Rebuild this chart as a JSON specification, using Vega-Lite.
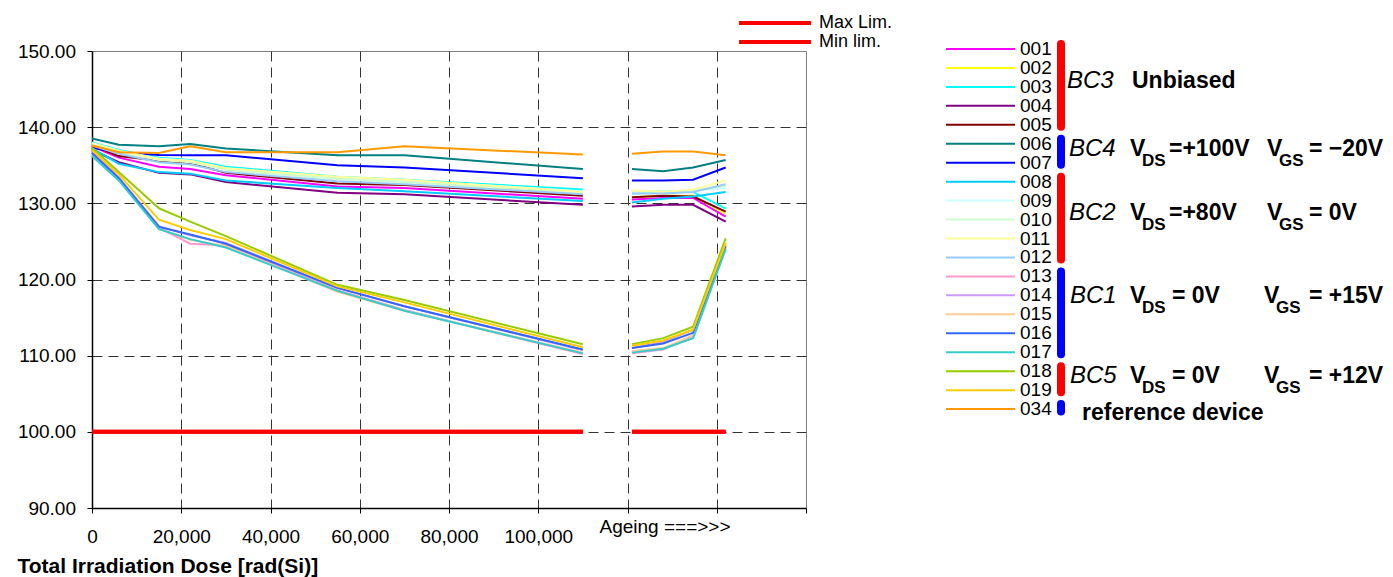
{
  "$schema": "https://vega.github.io/schema/vega-lite/v6.json",
  "background": "white",
  "padding": {"left": 16, "top": 12, "right": 0, "bottom": 0},
  "config": {"font": "Liberation Sans", "view": {"stroke": null}, "concat": {"spacing": 51}},
  "datasets": {
    "series": [
      {"d":"001","x":0,"y":137.5,"p":"irr"},{"d":"001","x":6000,"y":136.0,"p":"irr"},{"d":"001","x":15000,"y":134.8,"p":"irr"},{"d":"001","x":22000,"y":134.5,"p":"irr"},{"d":"001","x":30000,"y":133.7,"p":"irr"},{"d":"001","x":55000,"y":132.2,"p":"irr"},{"d":"001","x":70000,"y":132.0,"p":"irr"},{"d":"001","x":110000,"y":130.6,"p":"irr"},
      {"d":"001","x":121000,"y":130.5,"p":"age"},{"d":"001","x":128000,"y":130.7,"p":"age"},{"d":"001","x":134700,"y":130.7,"p":"age"},{"d":"001","x":142000,"y":128.25,"p":"age"},
      {"d":"002","x":0,"y":137.8,"p":"irr"},{"d":"002","x":6000,"y":136.8,"p":"irr"},{"d":"002","x":15000,"y":135.8,"p":"irr"},{"d":"002","x":22000,"y":135.5,"p":"irr"},{"d":"002","x":30000,"y":134.5,"p":"irr"},{"d":"002","x":55000,"y":133.3,"p":"irr"},{"d":"002","x":70000,"y":132.9,"p":"irr"},{"d":"002","x":110000,"y":131.3,"p":"irr"},
      {"d":"002","x":121000,"y":130.8,"p":"age"},{"d":"002","x":128000,"y":131.0,"p":"age"},{"d":"002","x":134700,"y":131.0,"p":"age"},{"d":"002","x":142000,"y":128.6,"p":"age"},
      {"d":"003","x":0,"y":138.0,"p":"irr"},{"d":"003","x":6000,"y":137.0,"p":"irr"},{"d":"003","x":15000,"y":136.0,"p":"irr"},{"d":"003","x":22000,"y":135.7,"p":"irr"},{"d":"003","x":30000,"y":134.8,"p":"irr"},{"d":"003","x":55000,"y":133.5,"p":"irr"},{"d":"003","x":70000,"y":133.1,"p":"irr"},{"d":"003","x":110000,"y":131.8,"p":"irr"},
      {"d":"003","x":121000,"y":131.3,"p":"age"},{"d":"003","x":128000,"y":131.5,"p":"age"},{"d":"003","x":134700,"y":131.5,"p":"age"},{"d":"003","x":142000,"y":129.3,"p":"age"},
      {"d":"004","x":0,"y":137.0,"p":"irr"},{"d":"004","x":6000,"y":135.4,"p":"irr"},{"d":"004","x":15000,"y":134.0,"p":"irr"},{"d":"004","x":22000,"y":133.8,"p":"irr"},{"d":"004","x":30000,"y":132.8,"p":"irr"},{"d":"004","x":55000,"y":131.4,"p":"irr"},{"d":"004","x":70000,"y":131.2,"p":"irr"},{"d":"004","x":110000,"y":129.8,"p":"irr"},
      {"d":"004","x":121000,"y":129.6,"p":"age"},{"d":"004","x":128000,"y":129.8,"p":"age"},{"d":"004","x":134700,"y":129.8,"p":"age"},{"d":"004","x":142000,"y":127.6,"p":"age"},
      {"d":"005","x":0,"y":137.6,"p":"irr"},{"d":"005","x":6000,"y":136.2,"p":"irr"},{"d":"005","x":15000,"y":135.6,"p":"irr"},{"d":"005","x":22000,"y":135.3,"p":"irr"},{"d":"005","x":30000,"y":134.0,"p":"irr"},{"d":"005","x":55000,"y":132.6,"p":"irr"},{"d":"005","x":70000,"y":132.4,"p":"irr"},{"d":"005","x":110000,"y":131.0,"p":"irr"},
      {"d":"005","x":121000,"y":130.8,"p":"age"},{"d":"005","x":128000,"y":131.0,"p":"age"},{"d":"005","x":134700,"y":130.9,"p":"age"},{"d":"005","x":142000,"y":128.9,"p":"age"},
      {"d":"006","x":0,"y":138.5,"p":"irr"},{"d":"006","x":6000,"y":137.7,"p":"irr"},{"d":"006","x":15000,"y":137.5,"p":"irr"},{"d":"006","x":22000,"y":137.8,"p":"irr"},{"d":"006","x":30000,"y":137.2,"p":"irr"},{"d":"006","x":55000,"y":136.3,"p":"irr"},{"d":"006","x":70000,"y":136.3,"p":"irr"},{"d":"006","x":110000,"y":134.5,"p":"irr"},
      {"d":"006","x":121000,"y":134.5,"p":"age"},{"d":"006","x":128000,"y":134.2,"p":"age"},{"d":"006","x":134700,"y":134.7,"p":"age"},{"d":"006","x":142000,"y":135.7,"p":"age"},
      {"d":"007","x":0,"y":137.3,"p":"irr"},{"d":"007","x":6000,"y":136.7,"p":"irr"},{"d":"007","x":15000,"y":136.35,"p":"irr"},{"d":"007","x":22000,"y":136.3,"p":"irr"},{"d":"007","x":30000,"y":136.3,"p":"irr"},{"d":"007","x":55000,"y":135.0,"p":"irr"},{"d":"007","x":70000,"y":134.7,"p":"irr"},{"d":"007","x":110000,"y":133.3,"p":"irr"},
      {"d":"007","x":121000,"y":133.0,"p":"age"},{"d":"007","x":128000,"y":133.0,"p":"age"},{"d":"007","x":134700,"y":133.1,"p":"age"},{"d":"007","x":142000,"y":134.7,"p":"age"},
      {"d":"008","x":0,"y":137.2,"p":"irr"},{"d":"008","x":6000,"y":135.2,"p":"irr"},{"d":"008","x":15000,"y":134.1,"p":"irr"},{"d":"008","x":22000,"y":133.9,"p":"irr"},{"d":"008","x":30000,"y":133.0,"p":"irr"},{"d":"008","x":55000,"y":132.0,"p":"irr"},{"d":"008","x":70000,"y":131.6,"p":"irr"},{"d":"008","x":110000,"y":130.3,"p":"irr"},
      {"d":"008","x":121000,"y":130.1,"p":"age"},{"d":"008","x":128000,"y":130.6,"p":"age"},{"d":"008","x":134700,"y":130.9,"p":"age"},{"d":"008","x":142000,"y":131.5,"p":"age"},
      {"d":"009","x":0,"y":137.9,"p":"irr"},{"d":"009","x":6000,"y":136.9,"p":"irr"},{"d":"009","x":15000,"y":135.9,"p":"irr"},{"d":"009","x":22000,"y":135.6,"p":"irr"},{"d":"009","x":30000,"y":134.6,"p":"irr"},{"d":"009","x":55000,"y":133.4,"p":"irr"},{"d":"009","x":70000,"y":133.0,"p":"irr"},{"d":"009","x":110000,"y":131.6,"p":"irr"},
      {"d":"009","x":121000,"y":131.5,"p":"age"},{"d":"009","x":128000,"y":131.6,"p":"age"},{"d":"009","x":134700,"y":131.7,"p":"age"},{"d":"009","x":142000,"y":132.0,"p":"age"},
      {"d":"010","x":0,"y":137.7,"p":"irr"},{"d":"010","x":6000,"y":136.7,"p":"irr"},{"d":"010","x":15000,"y":135.7,"p":"irr"},{"d":"010","x":22000,"y":135.4,"p":"irr"},{"d":"010","x":30000,"y":134.4,"p":"irr"},{"d":"010","x":55000,"y":133.2,"p":"irr"},{"d":"010","x":70000,"y":132.8,"p":"irr"},{"d":"010","x":110000,"y":131.4,"p":"irr"},
      {"d":"010","x":121000,"y":131.6,"p":"age"},{"d":"010","x":128000,"y":131.6,"p":"age"},{"d":"010","x":134700,"y":131.6,"p":"age"},{"d":"010","x":142000,"y":132.3,"p":"age"},
      {"d":"011","x":0,"y":137.9,"p":"irr"},{"d":"011","x":6000,"y":136.9,"p":"irr"},{"d":"011","x":15000,"y":135.8,"p":"irr"},{"d":"011","x":22000,"y":135.6,"p":"irr"},{"d":"011","x":30000,"y":134.6,"p":"irr"},{"d":"011","x":55000,"y":133.5,"p":"irr"},{"d":"011","x":70000,"y":133.1,"p":"irr"},{"d":"011","x":110000,"y":131.5,"p":"irr"},
      {"d":"011","x":121000,"y":131.7,"p":"age"},{"d":"011","x":128000,"y":131.5,"p":"age"},{"d":"011","x":134700,"y":131.8,"p":"age"},{"d":"011","x":142000,"y":133.0,"p":"age"},
      {"d":"012","x":0,"y":137.6,"p":"irr"},{"d":"012","x":6000,"y":136.5,"p":"irr"},{"d":"012","x":15000,"y":135.4,"p":"irr"},{"d":"012","x":22000,"y":135.1,"p":"irr"},{"d":"012","x":30000,"y":134.1,"p":"irr"},{"d":"012","x":55000,"y":132.9,"p":"irr"},{"d":"012","x":70000,"y":132.5,"p":"irr"},{"d":"012","x":110000,"y":131.2,"p":"irr"},
      {"d":"012","x":121000,"y":131.3,"p":"age"},{"d":"012","x":128000,"y":131.3,"p":"age"},{"d":"012","x":134700,"y":131.5,"p":"age"},{"d":"012","x":142000,"y":132.5,"p":"age"},
      {"d":"013","x":0,"y":136.5,"p":"irr"},{"d":"013","x":6000,"y":133.2,"p":"irr"},{"d":"013","x":15000,"y":126.8,"p":"irr"},{"d":"013","x":22000,"y":124.7,"p":"irr"},{"d":"013","x":30000,"y":124.5,"p":"irr"},{"d":"013","x":55000,"y":118.6,"p":"irr"},{"d":"013","x":70000,"y":116.0,"p":"irr"},{"d":"013","x":110000,"y":110.2,"p":"irr"},
      {"d":"013","x":121000,"y":110.3,"p":"age"},{"d":"013","x":128000,"y":110.8,"p":"age"},{"d":"013","x":134700,"y":112.6,"p":"age"},{"d":"013","x":142000,"y":124.2,"p":"age"},
      {"d":"014","x":0,"y":136.8,"p":"irr"},{"d":"014","x":6000,"y":133.4,"p":"irr"},{"d":"014","x":15000,"y":127.0,"p":"irr"},{"d":"014","x":22000,"y":125.8,"p":"irr"},{"d":"014","x":30000,"y":124.8,"p":"irr"},{"d":"014","x":55000,"y":118.9,"p":"irr"},{"d":"014","x":70000,"y":116.5,"p":"irr"},{"d":"014","x":110000,"y":110.7,"p":"irr"},
      {"d":"014","x":121000,"y":111.0,"p":"age"},{"d":"014","x":128000,"y":111.8,"p":"age"},{"d":"014","x":134700,"y":113.4,"p":"age"},{"d":"014","x":142000,"y":124.6,"p":"age"},
      {"d":"015","x":0,"y":136.3,"p":"irr"},{"d":"015","x":6000,"y":133.1,"p":"irr"},{"d":"015","x":15000,"y":126.7,"p":"irr"},{"d":"015","x":22000,"y":125.2,"p":"irr"},{"d":"015","x":30000,"y":124.4,"p":"irr"},{"d":"015","x":55000,"y":118.4,"p":"irr"},{"d":"015","x":70000,"y":115.9,"p":"irr"},{"d":"015","x":110000,"y":110.4,"p":"irr"},
      {"d":"015","x":121000,"y":110.6,"p":"age"},{"d":"015","x":128000,"y":111.0,"p":"age"},{"d":"015","x":134700,"y":112.7,"p":"age"},{"d":"015","x":142000,"y":124.2,"p":"age"},
      {"d":"016","x":0,"y":136.6,"p":"irr"},{"d":"016","x":6000,"y":133.3,"p":"irr"},{"d":"016","x":15000,"y":126.9,"p":"irr"},{"d":"016","x":22000,"y":125.9,"p":"irr"},{"d":"016","x":30000,"y":124.7,"p":"irr"},{"d":"016","x":55000,"y":118.9,"p":"irr"},{"d":"016","x":70000,"y":116.5,"p":"irr"},{"d":"016","x":110000,"y":110.8,"p":"irr"},
      {"d":"016","x":121000,"y":111.0,"p":"age"},{"d":"016","x":128000,"y":111.6,"p":"age"},{"d":"016","x":134700,"y":113.0,"p":"age"},{"d":"016","x":142000,"y":124.4,"p":"age"},
      {"d":"017","x":0,"y":136.2,"p":"irr"},{"d":"017","x":6000,"y":133.0,"p":"irr"},{"d":"017","x":15000,"y":126.6,"p":"irr"},{"d":"017","x":22000,"y":125.3,"p":"irr"},{"d":"017","x":30000,"y":124.2,"p":"irr"},{"d":"017","x":55000,"y":118.5,"p":"irr"},{"d":"017","x":70000,"y":115.9,"p":"irr"},{"d":"017","x":110000,"y":110.3,"p":"irr"},
      {"d":"017","x":121000,"y":110.4,"p":"age"},{"d":"017","x":128000,"y":110.9,"p":"age"},{"d":"017","x":134700,"y":112.3,"p":"age"},{"d":"017","x":142000,"y":124.0,"p":"age"},
      {"d":"018","x":0,"y":137.3,"p":"irr"},{"d":"018","x":6000,"y":134.1,"p":"irr"},{"d":"018","x":15000,"y":129.35,"p":"irr"},{"d":"018","x":22000,"y":127.6,"p":"irr"},{"d":"018","x":30000,"y":125.7,"p":"irr"},{"d":"018","x":55000,"y":119.3,"p":"irr"},{"d":"018","x":70000,"y":117.3,"p":"irr"},{"d":"018","x":110000,"y":111.5,"p":"irr"},
      {"d":"018","x":121000,"y":111.5,"p":"age"},{"d":"018","x":128000,"y":112.3,"p":"age"},{"d":"018","x":134700,"y":113.8,"p":"age"},{"d":"018","x":142000,"y":125.4,"p":"age"},
      {"d":"019","x":0,"y":137.0,"p":"irr"},{"d":"019","x":6000,"y":133.8,"p":"irr"},{"d":"019","x":15000,"y":127.85,"p":"irr"},{"d":"019","x":22000,"y":126.5,"p":"irr"},{"d":"019","x":30000,"y":125.3,"p":"irr"},{"d":"019","x":55000,"y":119.1,"p":"irr"},{"d":"019","x":70000,"y":117.0,"p":"irr"},{"d":"019","x":110000,"y":111.1,"p":"irr"},
      {"d":"019","x":121000,"y":111.3,"p":"age"},{"d":"019","x":128000,"y":112.0,"p":"age"},{"d":"019","x":134700,"y":113.4,"p":"age"},{"d":"019","x":142000,"y":124.8,"p":"age"},
      {"d":"034","x":0,"y":137.6,"p":"irr"},{"d":"034","x":6000,"y":136.7,"p":"irr"},{"d":"034","x":15000,"y":136.6,"p":"irr"},{"d":"034","x":22000,"y":137.5,"p":"irr"},{"d":"034","x":30000,"y":136.7,"p":"irr"},{"d":"034","x":55000,"y":136.7,"p":"irr"},{"d":"034","x":70000,"y":137.5,"p":"irr"},{"d":"034","x":110000,"y":136.4,"p":"irr"},
      {"d":"034","x":121000,"y":136.5,"p":"age"},{"d":"034","x":128000,"y":136.8,"p":"age"},{"d":"034","x":134700,"y":136.8,"p":"age"},{"d":"034","x":142000,"y":136.3,"p":"age"}
    ],
    "limits": [
      {"lim":"Max Lim.","x":0,"y":100,"p":"irr"},{"lim":"Max Lim.","x":110000,"y":100,"p":"irr"},
      {"lim":"Max Lim.","x":121000,"y":100,"p":"age"},{"lim":"Max Lim.","x":142000,"y":100,"p":"age"},
      {"lim":"Min lim.","x":0,"y":100,"p":"irr"},{"lim":"Min lim.","x":110000,"y":100,"p":"irr"},
      {"lim":"Min lim.","x":121000,"y":100,"p":"age"},{"lim":"Min lim.","x":142000,"y":100,"p":"age"}
    ],
    "entries": [
      {"d":"001","i":0},{"d":"002","i":1},{"d":"003","i":2},{"d":"004","i":3},{"d":"005","i":4},
      {"d":"006","i":5},{"d":"007","i":6},{"d":"008","i":7},{"d":"009","i":8},{"d":"010","i":9},
      {"d":"011","i":10},{"d":"012","i":11},{"d":"013","i":12},{"d":"014","i":13},{"d":"015","i":14},
      {"d":"016","i":15},{"d":"017","i":16},{"d":"018","i":17},{"d":"019","i":18},{"d":"034","i":19}
    ],
    "groups": [
      {"g":"BC3","first":0,"last":4},{"g":"BC4","first":5,"last":6},{"g":"BC2","first":7,"last":11},
      {"g":"BC1","first":12,"last":16},{"g":"BC5","first":17,"last":18},{"g":"ref","first":19,"last":19.02}
    ],
    "groupNames": [
      {"t":"BC3","col":122,"row":1.68},{"t":"BC4","col":124,"row":5.3},{"t":"BC2","col":124,"row":8.65},
      {"t":"BC1","col":125,"row":13.05},{"t":"BC5","col":125,"row":17.27}
    ],
    "mainText": [
      {"t":"Unbiased","col":187,"row":1.68},
      {"t":"V","col":185,"row":5.3},{"t":"=+100V","col":224,"row":5.3},{"t":"V","col":322,"row":5.3},{"t":"= −20V","col":364,"row":5.3},
      {"t":"V","col":185,"row":8.65},{"t":"=+80V","col":224,"row":8.65},{"t":"V","col":322,"row":8.65},{"t":"=  0V","col":364,"row":8.65},
      {"t":"V","col":185,"row":13.05},{"t":"= 0V","col":227,"row":13.05},{"t":"V","col":319,"row":13.05},{"t":"= +15V","col":364,"row":13.05},
      {"t":"V","col":185,"row":17.27},{"t":"= 0V","col":227,"row":17.27},{"t":"V","col":319,"row":17.27},{"t":"= +12V","col":364,"row":17.27},
      {"t":"reference device","col":137,"row":19.22}
    ],
    "subText": [
      {"t":"DS","col":197,"row":5.3},{"t":"GS","col":334,"row":5.3},
      {"t":"DS","col":197,"row":8.65},{"t":"GS","col":334,"row":8.65},
      {"t":"DS","col":197,"row":13.05},{"t":"GS","col":331,"row":13.05},
      {"t":"DS","col":197,"row":17.27},{"t":"GS","col":331,"row":17.27}
    ]
  },
  "resolve": {"scale": {"color": "independent", "x": "independent", "y": "independent"}},
  "hconcat": [
    {
      "width": 714,
      "height": 457,
      "view": {"stroke": "#808080", "strokeWidth": 1},
      "resolve": {"scale": {"color": "independent"}},
      "encoding": {
        "x": {
          "field": "x", "type": "quantitative",
          "scale": {"domain": [0, 160000], "nice": false, "zero": false},
          "axis": {
            "values": [0, 20000, 40000, 60000, 80000, 100000, 120000, 140000, 160000],
            "labelExpr": "datum.value == 120000 ? 'Ageing ===>>>' : (datum.value <= 100000 ? format(datum.value, ',') : '')",
            "labelFontSize": 19, "labelColor": "#000000", "labelOverlap": false, "labelFlush": false,
            "labelBaseline": "top",
            "labelPadding": {"condition": {"test": "datum.value == 120000", "value": 4.5}, "value": 14.5},
            "labelOffset": {"condition": {"test": "datum.value == 120000", "value": 37}, "value": 0},
            "tickSize": 5, "tickColor": "#000000", "domainColor": "#000000", "domainWidth": 1.5,
            "grid": true, "gridColor": "#333333", "gridDash": [10, 6],
            "gridOpacity": {"condition": {"test": "datum.value == 0 || datum.value == 160000", "value": 0}, "value": 1},
            "title": "Total Irradiation Dose [rad(Si)]",
            "titleFontSize": 21, "titleFontWeight": "bold", "titleColor": "#000000",
            "titleAnchor": "start", "titleAlign": "left", "titleBaseline": "alphabetic",
            "titleX": -75, "titleY": 64
          }
        },
        "y": {
          "field": "y", "type": "quantitative",
          "scale": {"domain": [90, 150], "nice": false, "zero": false},
          "axis": {
            "values": [90, 100, 110, 120, 130, 140, 150],
            "format": ".2f", "labelFontSize": 19, "labelColor": "#000000", "labelPadding": 11.5,
            "tickSize": 5, "tickColor": "#000000", "domainColor": "#000000", "domainWidth": 1.5,
            "grid": true, "gridColor": "#333333", "gridDash": [10, 6],
            "gridOpacity": {"condition": {"test": "datum.value == 90 || datum.value == 150", "value": 0}, "value": 1},
            "title": null
          }
        }
      },
      "layer": [
        {
          "data": {"name": "series"},
          "mark": {"type": "line", "strokeWidth": 2},
          "encoding": {
            "color": {
              "field": "d", "type": "nominal",
              "scale": {
                "domain": ["001","002","003","004","005","006","007","008","009","010","011","012","013","014","015","016","017","018","019","034"],
                "range": ["#FF00FF","#FFFF00","#00FFFF","#800080","#800000","#008080","#0000FF","#00CCFF","#CCFFFF","#CCFFCC","#FFFF99","#99CCFF","#FF99CC","#CC99FF","#FFCC99","#3366FF","#33CCCC","#99CC00","#FFCC00","#FF9900"]
              },
              "legend": null
            },
            "detail": {"field": "p", "type": "nominal"}
          }
        },
        {
          "data": {"name": "limits"},
          "mark": {"type": "line", "strokeWidth": 4},
          "encoding": {
            "color": {
              "field": "lim", "type": "nominal",
              "scale": {"domain": ["Max Lim.", "Min lim."], "range": ["#FF0000", "#FF0000"]},
              "legend": {
                "orient": "none", "legendX": 673, "legendY": -38, "title": null,
                "symbolType": "M-4.5,0H4.5", "symbolSize": 256, "symbolStrokeWidth": 4,
                "labelFontSize": 18, "labelColor": "#000000", "labelOffset": 34,
                "padding": 0, "rowPadding": 0
              }
            },
            "detail": {"field": "p", "type": "nominal"}
          }
        }
      ]
    },
    {
      "width": 447,
      "height": 398,
      "layer": [
        {
          "data": {"name": "entries"},
          "mark": {"type": "rule", "strokeWidth": 2},
          "encoding": {
            "x": {"datum": 1, "type": "quantitative", "scale": {"domain": [0, 447], "nice": false, "zero": false}, "axis": null},
            "x2": {"datum": 70},
            "y": {"field": "i", "type": "quantitative", "scale": {"domain": [0.106, 21.106], "reverse": true, "nice": false, "zero": false}, "axis": null},
            "color": {
              "field": "d", "type": "nominal",
              "scale": {
                "domain": ["001","002","003","004","005","006","007","008","009","010","011","012","013","014","015","016","017","018","019","034"],
                "range": ["#FF00FF","#FFFF00","#00FFFF","#800080","#800000","#008080","#0000FF","#00CCFF","#CCFFFF","#CCFFCC","#FFFF99","#99CCFF","#FF99CC","#CC99FF","#FFCC99","#3366FF","#33CCCC","#99CC00","#FFCC00","#FF9900"]
              },
              "legend": null
            }
          }
        },
        {
          "data": {"name": "entries"},
          "mark": {"type": "text", "align": "left", "baseline": "middle", "fontSize": 19, "color": "#000000"},
          "encoding": {
            "x": {"datum": 75, "type": "quantitative"},
            "y": {"field": "i", "type": "quantitative"},
            "text": {"field": "d"}
          }
        },
        {
          "data": {"name": "groups"},
          "mark": {"type": "rule", "strokeWidth": 8, "strokeCap": "round", "yOffset": -5, "y2Offset": 2},
          "encoding": {
            "x": {"datum": 116, "type": "quantitative"},
            "y": {"field": "first", "type": "quantitative"},
            "y2": {"field": "last"},
            "stroke": {
              "field": "g", "type": "nominal",
              "scale": {"domain": ["BC3","BC4","BC2","BC1","BC5","ref"], "range": ["#FF0000","#0000FF","#FF0000","#0000FF","#FF0000","#0000FF"]},
              "legend": null
            }
          }
        },
        {
          "data": {"name": "groupNames"},
          "mark": {"type": "text", "align": "left", "baseline": "middle", "fontSize": 24, "fontStyle": "italic", "color": "#000000"},
          "encoding": {
            "x": {"field": "col", "type": "quantitative"},
            "y": {"field": "row", "type": "quantitative"},
            "text": {"field": "t"}
          }
        },
        {
          "data": {"name": "mainText"},
          "mark": {"type": "text", "align": "left", "baseline": "middle", "fontSize": 23, "fontWeight": "bold", "color": "#000000"},
          "encoding": {
            "x": {"field": "col", "type": "quantitative"},
            "y": {"field": "row", "type": "quantitative"},
            "text": {"field": "t"}
          }
        },
        {
          "data": {"name": "subText"},
          "mark": {"type": "text", "align": "left", "baseline": "middle", "fontSize": 17, "fontWeight": "bold", "dy": 12, "color": "#000000"},
          "encoding": {
            "x": {"field": "col", "type": "quantitative"},
            "y": {"field": "row", "type": "quantitative"},
            "text": {"field": "t"}
          }
        }
      ]
    }
  ]
}
